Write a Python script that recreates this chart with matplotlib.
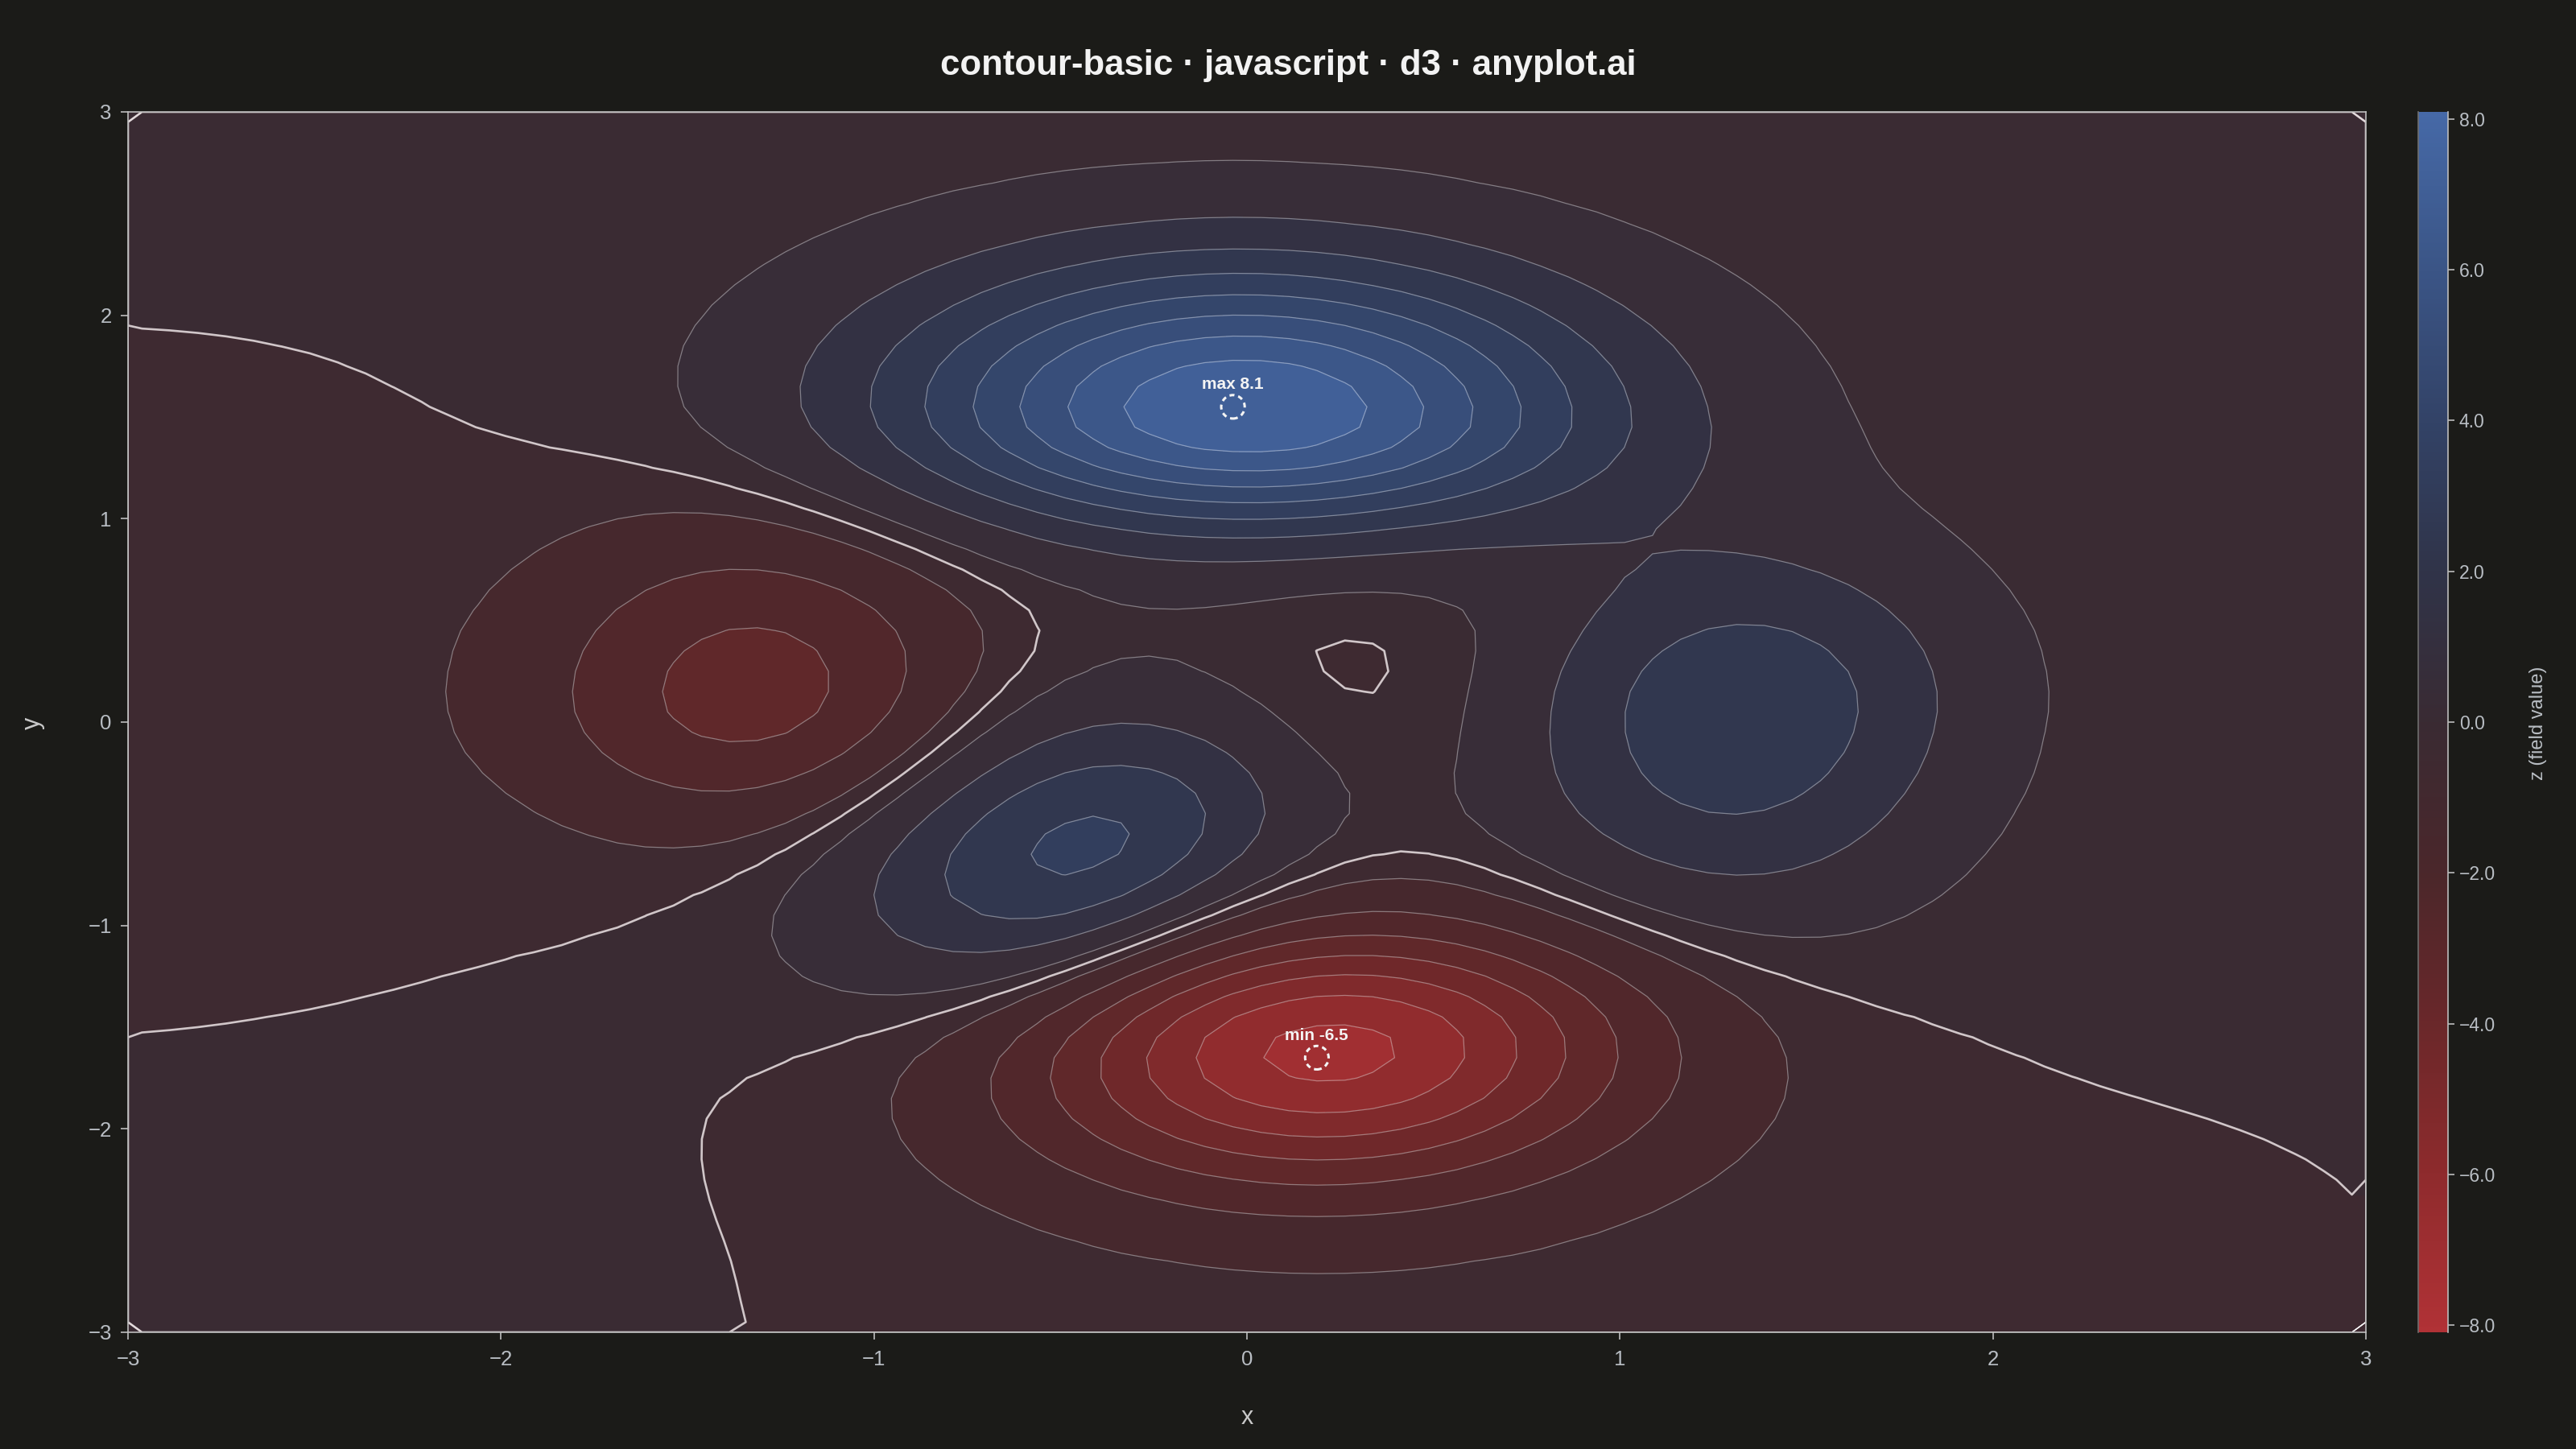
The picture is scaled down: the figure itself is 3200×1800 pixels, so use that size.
import numpy as np
import matplotlib
matplotlib.use("Agg")
import matplotlib.pyplot as plt
from matplotlib.colors import LinearSegmentedColormap, Normalize
from matplotlib.ticker import FuncFormatter

# gaussian bumps that make up the field (shapes)
bump_x = [-0.003, 1.325, -0.446, -1.314, 0.219, 0.195, -3.226, 0.864]
bump_y = [1.525, 0.053, -0.645, 0.134, -1.610, 0.022, 0.212, -2.790]
bump_amp = [8.058, 3.114, 3.709, -2.884, -6.586, -0.626, -0.345, -0.169]
bump_sx = [0.649, 0.408, 0.530, 0.402, 0.561, 0.312, 1.060, 1.574]
bump_sy_up = [0.506, 0.544, 0.406, 0.557, 0.413, 0.577, 0.946, 0.773]
bump_sy_down = [0.396, 0.676, 0.333, 0.449, 0.460, 0.321, 0.958, 1.019]
bump_tilt = [-2.1, -5.7, 60.5, -1.0, 6.2, -12.9, 8.6, 7.8]
offset = 0.0651

# colour scale stops
stop_values = [-6, -4, -2, 0, 2, 4, 6]
stop_colors = ["#b13236", "#8e2b2d", "#6a282a", "#4b272b", "#3a2b33",
               "#303449", "#334367", "#3b5586", "#4669a7"]

BG = "#1b1b18"
TXT = "#b9bec4"
AXC = "#bdbdbd"


def field(X, Y):
    z = np.full(X.shape, offset)
    for x0, y0, a, sx, su, sd, t in zip(bump_x, bump_y, bump_amp, bump_sx,
                                         bump_sy_up, bump_sy_down, bump_tilt):
        th = np.radians(t)
        dx, dy = X - x0, Y - y0
        u = dx * np.cos(th) + dy * np.sin(th)
        v = -dx * np.sin(th) + dy * np.cos(th)
        sv = np.where(v > 0, su, sd)
        z += a * np.exp(-0.5 * (u / sx) ** 2 - 0.5 * (v / sv) ** 2)
    return z


# sample on a coarse grid, values at cell centres
nx, ny = 80, 60
xs = -3 + (np.arange(nx) + 0.5) * 6 / nx
ys = -3 + (np.arange(ny) + 0.5) * 6 / ny
X, Y = np.meshgrid(xs, ys)
Z = field(X, Y)
zmax, zmin = Z.max(), Z.min()
lim = max(zmax, -zmin)
levels = np.linspace(-lim, lim, 18)
bounds = np.unique(np.concatenate([levels, [0.0]]))
bounds_fill = np.append(bounds, lim + 10)

norm = Normalize(-lim, lim)
cmap = LinearSegmentedColormap.from_list(
    "div", [(norm(v), c) for v, c in zip([-lim] + stop_values + [lim], stop_colors)])

plt.rcParams["font.family"] = ["Liberation Sans", "DejaVu Sans"]
fig = plt.figure(figsize=(32, 18), dpi=100, facecolor=BG)
ax = fig.add_axes([159 / 3200, 1 - 1655 / 1800, 2780 / 3200, 1516 / 1800])
ax.set_facecolor(BG)

# grid extended to the borders
xf = np.concatenate([[-3], xs, [3]])
yf = np.concatenate([[-3], ys, [3]])
ax.contourf(xf, yf, np.pad(Z, 1, mode="edge"), levels=bounds_fill,
            colors=[cmap(norm(b)) for b in bounds_fill[:-1]])
for lv in levels:
    if lv >= zmax - 1e-9:
        continue
    ax.contour(xf, yf, np.pad(Z, 1, constant_values=lv - 1e-6), levels=[lv],
               colors="white", linewidths=0.9, alpha=0.38, negative_linestyles="solid")
ax.contour(xf, yf, np.pad(Z, 1, constant_values=-1e-6), levels=[0.0],
           colors="#e2d8da", linewidths=1.9, alpha=0.9)

# max / min markers
jmax, imax = np.unravel_index(Z.argmax(), Z.shape)
jmin, imin = np.unravel_index(Z.argmin(), Z.shape)
for (i, j, lab) in [(imax, jmax, f"max {zmax:.1f}"), (imin, jmin, f"min {zmin:.1f}")]:
    ax.scatter([xs[i]], [ys[j]], s=21 ** 2, facecolors="none", edgecolors="#f4f4f4",
               linewidths=2.2, linestyle=(0, (2.0, 1.6)), zorder=5)
    ax.annotate(lab, (xs[i], ys[j]), xytext=(0, 20), textcoords="offset points",
                ha="center", va="center", fontsize=15, fontweight="bold", color="#f4f4f4", zorder=6)

ax.set_xlim(-3, 3)
ax.set_ylim(-3, 3)
ax.set_xticks(np.arange(-3, 4))
ax.set_yticks(np.arange(-3, 4))
for s in ax.spines.values():
    s.set_color(AXC)
    s.set_linewidth(1.2)
ax.tick_params(direction="out", length=6.5, width=1.2, color=AXC, labelcolor=TXT, labelsize=18.5)
ax.tick_params(axis="x", pad=9)
ax.tick_params(axis="y", pad=8)

fig.text(0.5, 1 - 82 / 1800, "contour-basic · javascript · d3 · anyplot.ai", ha="center", va="center",
         fontsize=31.5, fontweight="bold", color="#f2f2f2")
fig.text(1549 / 3200, 1 - 1761 / 1800, "x", ha="center", va="center", fontsize=22, color="#c9c9c9")
fig.text(41 / 3200, 1 - 898 / 1800, "y", ha="center", va="center", rotation=90, fontsize=22, color="#c9c9c9")

# colour bar
cax = fig.add_axes([3004 / 3200, 1 - 1655 / 1800, 37 / 3200, 1516 / 1800])
cax.imshow(np.linspace(-lim, lim, 600).reshape(-1, 1), cmap=cmap, norm=norm, aspect="auto",
           origin="lower", extent=[0, 1, -lim, lim])
cax.set_xlim(0, 1)
cax.set_ylim(-lim, lim)
cax.set_xticks([])
cax.yaxis.tick_right()
cax.set_yticks(np.arange(-8, 9, 2))
cax.yaxis.set_major_formatter(FuncFormatter(lambda v, _: f"{v:.1f}".replace("-", "\u2212")))
cax.spines["top"].set_visible(False)
cax.spines["bottom"].set_visible(False)
cax.spines["left"].set_color("#6e6e6e")
cax.spines["right"].set_color(AXC)
cax.spines["left"].set_linewidth(1.2)
cax.spines["right"].set_linewidth(1.2)
cax.tick_params(axis="y", direction="out", length=6, width=1.2, color=AXC, labelcolor=TXT,
                labelsize=16.5, pad=4)
fig.text(3153 / 3200, 1 - 898 / 1800, "z (field value)", ha="center", va="center", rotation=90,
         fontsize=17, color=TXT)

plt.savefig("out.png", dpi=100, facecolor=BG)
